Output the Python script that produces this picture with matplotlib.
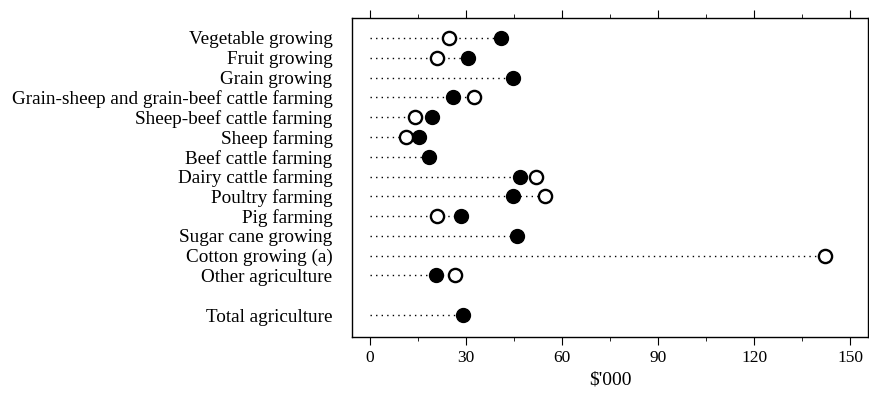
import numpy as np
import matplotlib.pyplot as plt
from matplotlib.ticker import MultipleLocator

plt.rcParams['font.family'] = ['Liberation Serif', 'DejaVu Serif']

categories = ['Vegetable growing', 'Fruit growing', 'Grain growing',
              'Grain-sheep and grain-beef cattle farming', 'Sheep-beef cattle farming',
              'Sheep farming', 'Beef cattle farming', 'Dairy cattle farming',
              'Poultry farming', 'Pig farming', 'Sugar cane growing',
              'Cotton growing (a)', 'Other agriculture', 'Total agriculture']
# filled and open markers ($'000); None = not shown
filled = [41, 30.6, 44.7, 26, 19.4, 15.3, 18.4, 47, 44.7, 28.4, 46, None, 20.6, 29]
hollow = [24.7, 21, None, 32.5, 14, 11.2, None, 52, 54.7, 21, None, 142, 26.6, None]
rows = list(range(13)) + [14]

fig = plt.figure(figsize=(8.69, 3.94), dpi=100)
ax = fig.add_axes([0.405, 0.145, 0.594, 0.809])

for y, f, h in zip(rows, filled, hollow):
    end = max(v for v in (f, h) if v is not None)
    ax.plot([0, end], [y, y], color='black', linestyle=(0, (1, 3)), linewidth=1, zorder=1)
    if h is not None:
        ax.plot(h, y, 'o', markersize=9.5, markerfacecolor='white',
                markeredgecolor='black', markeredgewidth=1.7, zorder=3)
    if f is not None:
        ax.plot(f, y, 'o', markersize=10, color='black', zorder=3)

ax.set_xlim(-5.6, 155.6)
ax.set_ylim(15.1, -1)
ax.set_yticks(rows)
ax.set_yticklabels(categories, fontsize=13.8)
ax.tick_params(axis='y', length=0, pad=14)
ax.xaxis.set_major_locator(MultipleLocator(30))
ax.xaxis.set_minor_locator(MultipleLocator(15))
ax.tick_params(axis='x', which='both', direction='out', top=True, labelsize=12.5)
ax.tick_params(axis='x', which='major', length=6)
ax.tick_params(axis='x', which='minor', length=3)
ax.set_xlabel("$'000", fontsize=14)
for s in ax.spines.values():
    s.set_linewidth(1)

fig.savefig('out.png', dpi=100)
